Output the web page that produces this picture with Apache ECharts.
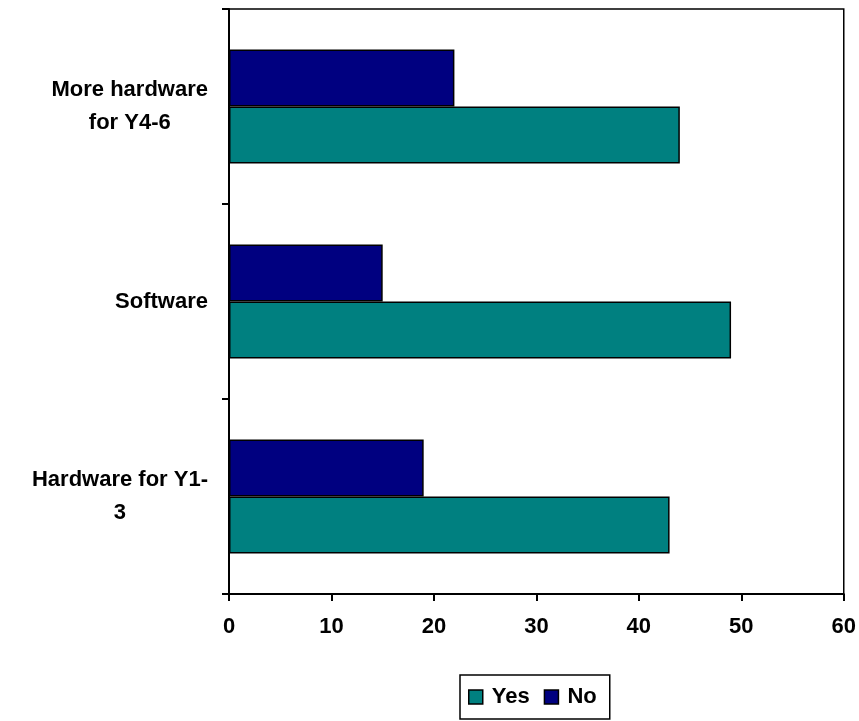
<!DOCTYPE html>
<html><head><meta charset="utf-8">
<script src="https://cdn.jsdelivr.net/npm/echarts@6/dist/echarts.min.js"></script>
<style>html,body{margin:0;padding:0;background:#fff}#c{width:859px;height:721px}</style>
</head><body><div id="c"></div>
<script>
const categories = ['Hardware for Y1-3', 'Software', 'More hardware for Y4-6'];
const categoryLines = [['Hardware for Y1-', '3'], ['Software'], ['More hardware', 'for Y4-6']];
const yesValues = [43, 49, 44];
const noValues = [19, 15, 22];
const xTicks = [0, 10, 20, 30, 40, 50, 60];

const font = 'Arial, "Liberation Sans", sans-serif';
const chart = echarts.init(document.getElementById('c'), null, {renderer: 'canvas'});
chart.setOption({
  animation: false,
  backgroundColor: '#ffffff',
  grid: {left: 229, right: 13, top: 9, bottom: 127, show: true, borderColor: '#000', borderWidth: 1.5, backgroundColor: 'transparent'},
  legend: {
    data: ['Yes', 'No'],
    left: 460, top: 675,
    orient: 'horizontal',
    borderColor: '#000', borderWidth: 1.5,
    padding: [11, 13, 11, 8],
    itemWidth: 14, itemHeight: 14, itemGap: 14,
    icon: 'rect',
    itemStyle: {borderColor: '#000', borderWidth: 1.5},
    textStyle: {fontFamily: font, fontWeight: 'bold', fontSize: 22, color: '#000', padding: [0, 0, 0, 4]}
  },
  xAxis: {
    type: 'value', min: 0, max: 60, interval: 10,
    axisLine: {show: true, lineStyle: {color: '#000', width: 2}},
    axisTick: {show: true, length: 7, lineStyle: {color: '#000', width: 2}},
    splitLine: {show: false},
    axisLabel: {fontFamily: font, fontWeight: 'bold', fontSize: 22, color: '#000', margin: 22,
      formatter: v => xTicks.includes(v) ? String(v) : ''}
  },
  yAxis: {
    type: 'category', data: categories,
    axisLine: {show: true, lineStyle: {color: '#000', width: 2}},
    axisTick: {show: true, length: 7, lineStyle: {color: '#000', width: 2}},
    axisLabel: {
      margin: 21, fontFamily: font, fontWeight: 'bold', fontSize: 22, color: '#000', lineHeight: 33,
      formatter: (v, i) => categoryLines[i].map(s => '{c|' + s + '}').join('\n'),
      rich: {c: {align: 'center', fontFamily: font, fontWeight: 'bold', fontSize: 22, color: '#000', lineHeight: 33}}
    }
  },
  series: [
    {name: 'No', type: 'bar', data: noValues, barGap: '0%', barCategoryGap: '41.5%',
      itemStyle: {color: '#000080', borderColor: '#000', borderWidth: 1.5}},
    {name: 'Yes', type: 'bar', data: yesValues, barGap: '0%', barCategoryGap: '41.5%',
      itemStyle: {color: '#008080', borderColor: '#000', borderWidth: 1.5}}
  ]
});
</script></body></html>
